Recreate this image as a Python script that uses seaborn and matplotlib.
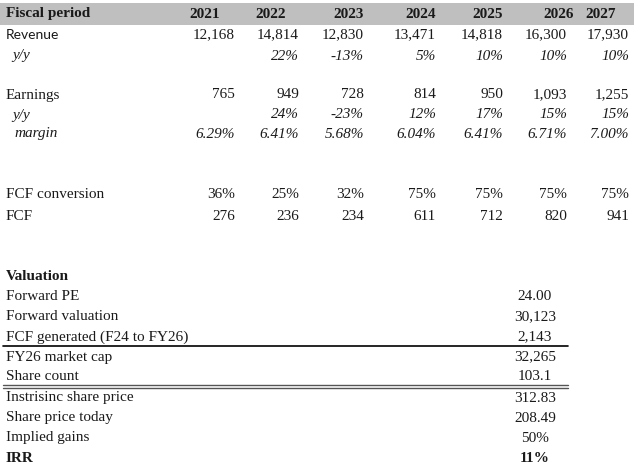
import matplotlib
matplotlib.use("Agg")
import matplotlib.pyplot as plt
import seaborn as sns

sns.set_theme(style="white")
plt.rcParams['font.family'] = ['Liberation Serif', 'DejaVu Sans']
plt.rcParams['text.color'] = '#1a1a1a'

years = [2021, 2022, 2023, 2024, 2025, 2026, 2027]
revenue = [12168, 14814, 12830, 13471, 14818, 16300, 17930]
rev_yoy = [None, 22, -13, 5, 10, 10, 10]
earnings = [765, 949, 728, 814, 950, 1093, 1255]
earn_yoy = [None, 24, -23, 12, 17, 15, 15]
margin = [6.29, 6.41, 5.68, 6.04, 6.41, 6.71, 7.00]
fcf_conv = [36, 25, 32, 75, 75, 75, 75]
fcf = [276, 236, 234, 611, 712, 820, 941]

val_labels = ["Forward PE", "Forward valuation", "FCF generated (F24 to FY26)",
              "FY26 market cap", "Share count", "Instrisinc share price",
              "Share price today", "Implied gains", "IRR"]
val_values = ["24.00", "30,123", "2,143", "32,265", "103.1", "312.83",
              "208.49", "50%", "11%"]

fig = plt.figure(figsize=(6.4, 4.75), dpi=100)
ax = fig.add_axes([0, 0, 1, 1])
ax.set_xlim(0, 640)
ax.set_ylim(475, 0)
ax.axis("off")

FS = 11
col_x = [235, 299, 364, 436, 503, 567, 629]
hdr_x = [220, 286, 364, 436, 503, 574, 616]

# header band
ax.fill_between([0, 634], 3, 25, color="#bfbfbf", lw=0)
ax.text(6, 14, "Fiscal period", fontsize=FS, fontweight="bold", va="center", ha="left")
for x, y in zip(hdr_x, years):
    ax.text(x, 14, str(y), fontsize=FS, fontweight="bold", va="center", ha="right")

def row(y, label, vals, fmt, italic=False, lx=6, lfont=None):
    style = "italic" if italic else "normal"
    kw = {}
    if lfont:
        kw["family"] = lfont
    ax.text(lx, y, label, fontsize=FS if not lfont else FS - 1, style=style,
            va="center", ha="left", **kw)
    for x, v in zip(col_x, vals):
        if v is None:
            continue
        ax.text(x, y, fmt(v), fontsize=FS, style=style, va="center", ha="right")

row(35, "Revenue", revenue, lambda v: f"{v:,}", lfont=["Lato", "DejaVu Sans"])
row(56, "y/y", rev_yoy, lambda v: f"{v}%", italic=True, lx=12)
row(95, "Earnings", earnings, lambda v: f"{v:,}")
row(115, "y/y", earn_yoy, lambda v: f"{v}%", italic=True, lx=12)
row(134, "margin", margin, lambda v: f"{v:.2f}%", italic=True, lx=14)
row(195, "FCF conversion", fcf_conv, lambda v: f"{v}%")
row(216, "FCF", fcf, lambda v: f"{v:,}")

ax.text(6, 276, "Valuation", fontsize=FS, fontweight="bold", va="center", ha="left")
vy = [297, 317, 337, 357, 377, 398, 418, 438, 458]
for i, (lab, val, y) in enumerate(zip(val_labels, val_values, vy)):
    bold = "bold" if lab == "IRR" else "normal"
    ax.text(6, y, lab, fontsize=FS, fontweight=bold, va="center", ha="left")
    ax.text(535, y, val, fontsize=FS, fontweight=bold, va="center", ha="center")

ax.plot([3, 568], [346, 346], color="black", lw=1.2)
ax.plot([3, 568], [385, 385], color="#555555", lw=1.0)
ax.plot([3, 568], [387.5, 387.5], color="#555555", lw=1.0)

fig.savefig("out.png", dpi=100)
